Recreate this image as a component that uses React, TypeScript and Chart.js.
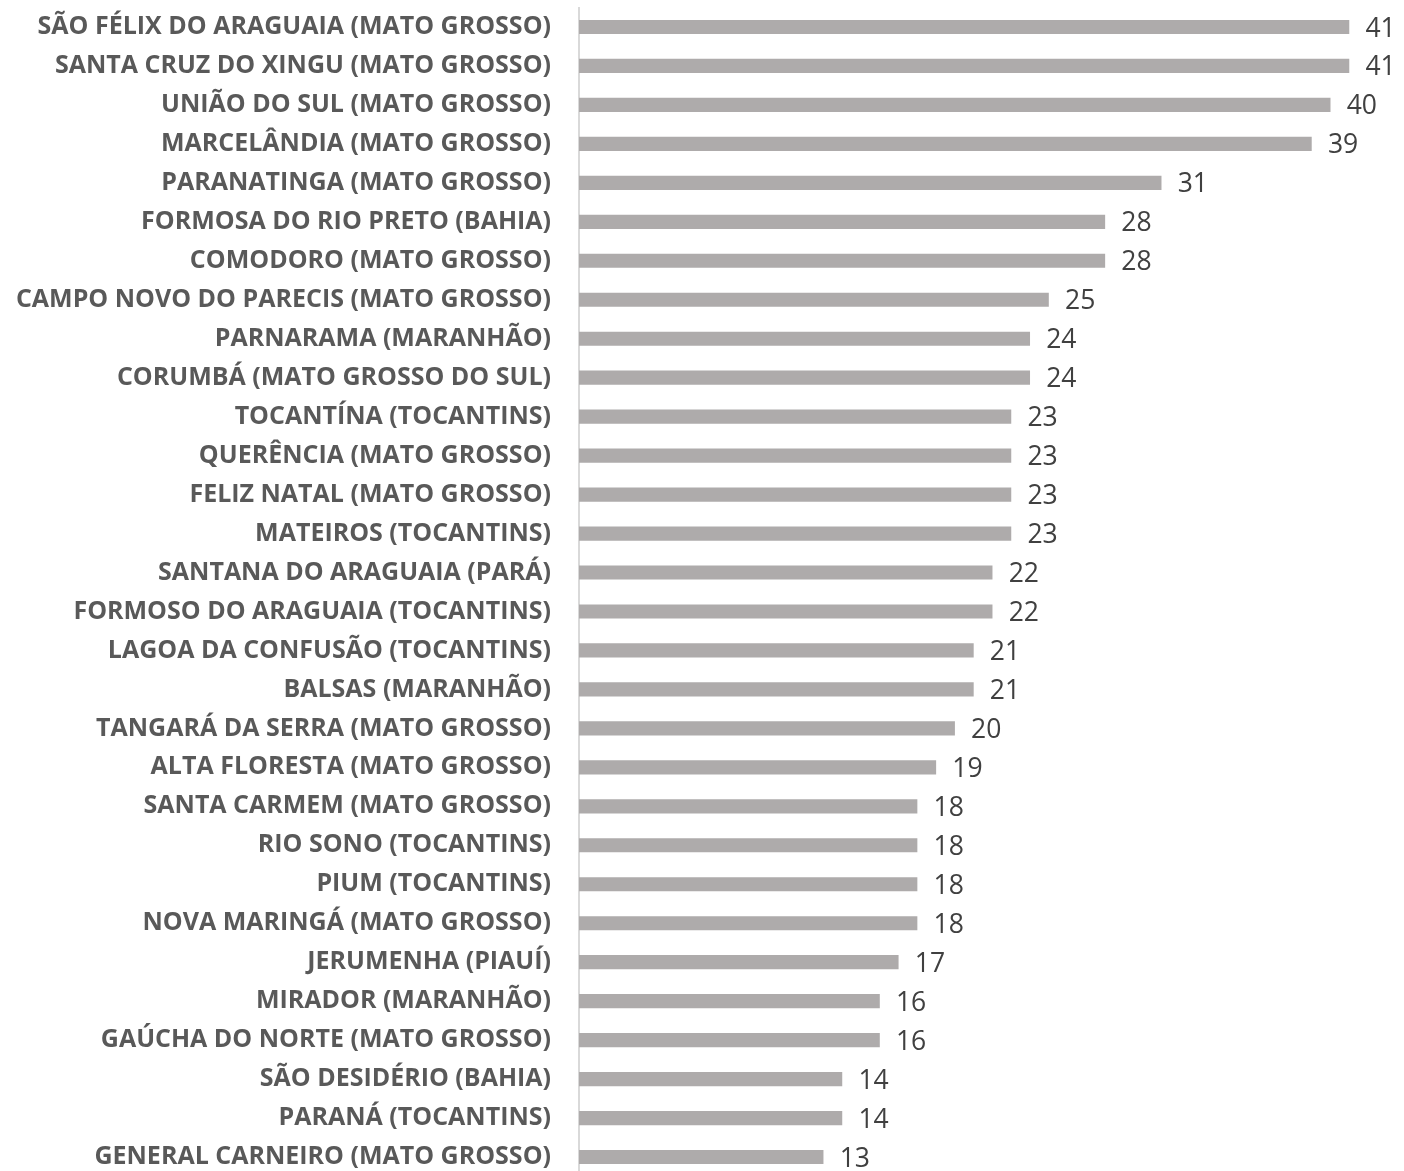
import React, { useEffect, useRef } from "react";
import { Chart, registerables } from "chart.js";

Chart.register(...registerables);

const categories: string[] = [
  "SÃO FÉLIX DO ARAGUAIA (MATO GROSSO)",
  "SANTA CRUZ DO XINGU (MATO GROSSO)",
  "UNIÃO DO SUL (MATO GROSSO)",
  "MARCELÂNDIA (MATO GROSSO)",
  "PARANATINGA (MATO GROSSO)",
  "FORMOSA DO RIO PRETO (BAHIA)",
  "COMODORO (MATO GROSSO)",
  "CAMPO NOVO DO PARECIS (MATO GROSSO)",
  "PARNARAMA (MARANHÃO)",
  "CORUMBÁ (MATO GROSSO DO SUL)",
  "TOCANTÍNA (TOCANTINS)",
  "QUERÊNCIA (MATO GROSSO)",
  "FELIZ NATAL (MATO GROSSO)",
  "MATEIROS (TOCANTINS)",
  "SANTANA DO ARAGUAIA (PARÁ)",
  "FORMOSO DO ARAGUAIA (TOCANTINS)",
  "LAGOA DA CONFUSÃO (TOCANTINS)",
  "BALSAS (MARANHÃO)",
  "TANGARÁ DA SERRA (MATO GROSSO)",
  "ALTA FLORESTA (MATO GROSSO)",
  "SANTA CARMEM (MATO GROSSO)",
  "RIO SONO (TOCANTINS)",
  "PIUM (TOCANTINS)",
  "NOVA MARINGÁ (MATO GROSSO)",
  "JERUMENHA (PIAUÍ)",
  "MIRADOR (MARANHÃO)",
  "GAÚCHA DO NORTE (MATO GROSSO)",
  "SÃO DESIDÉRIO (BAHIA)",
  "PARANÁ (TOCANTINS)",
  "GENERAL CARNEIRO (MATO GROSSO)",
];

const values: number[] = [
  41, 41, 40, 39, 31, 28, 28, 25, 24, 24, 23, 23, 23, 23, 22, 22, 21, 21, 20, 19,
  18, 18, 18, 18, 17, 16, 16, 14, 14, 13,
];

const valueLabelPlugin = {
  id: "valueLabels",
  afterDatasetsDraw(chart: any) {
    const ctx = chart.ctx;
    const meta = chart.getDatasetMeta(0);
    ctx.save();
    ctx.font = "26.5px 'Open Sans'";
    ctx.fillStyle = "#404040";
    ctx.textAlign = "left";
    ctx.textBaseline = "middle";
    meta.data.forEach((bar: any, i: number) => {
      ctx.fillText(String(values[i]), bar.x + 16.5, bar.y + 2);
    });
    ctx.restore();
  },
};

export default function App() {
  const ref = useRef<HTMLCanvasElement | null>(null);
  useEffect(() => {
    if (!ref.current) return;
    const chart = new Chart(ref.current, {
      type: "bar",
      data: {
        labels: categories,
        datasets: [
          {
            data: values,
            backgroundColor: "#AEABAB",
            borderWidth: 0,
            barThickness: 13.5,
          },
        ],
      },
      options: {
        indexAxis: "y",
        responsive: false,
        animation: false,
        layout: { padding: { top: 7.5, bottom: 3.5, left: 0, right: 17.5 } },
        plugins: {
          legend: { display: false },
          tooltip: { enabled: false },
        },
        scales: {
          x: {
            display: false,
            min: 0,
            max: 43,
          },
          y: {
            afterFit(scale: any) {
              scale.width = 579;
              scale.paddingTop = 0;
              scale.paddingBottom = 0;
            },
            grid: { display: false, drawTicks: false },
            border: { display: true, color: "#D9D9D9", width: 2 },
            ticks: {
              padding: 28,
              color: "#595959",
              font: { family: "'Open Sans'", size: 25, weight: "bold" },
              autoSkip: false,
            },
          },
        },
      },
      plugins: [valueLabelPlugin],
    });
    return () => chart.destroy();
  }, []);
  return (
    <div
      style={{
        position: "fixed",
        left: 0,
        top: 0,
        width: 1404,
        height: 1171,
        overflow: "hidden",
        background: "#fff",
      }}
    >
      <canvas ref={ref} width={1404} height={1180} />
    </div>
  );
}
